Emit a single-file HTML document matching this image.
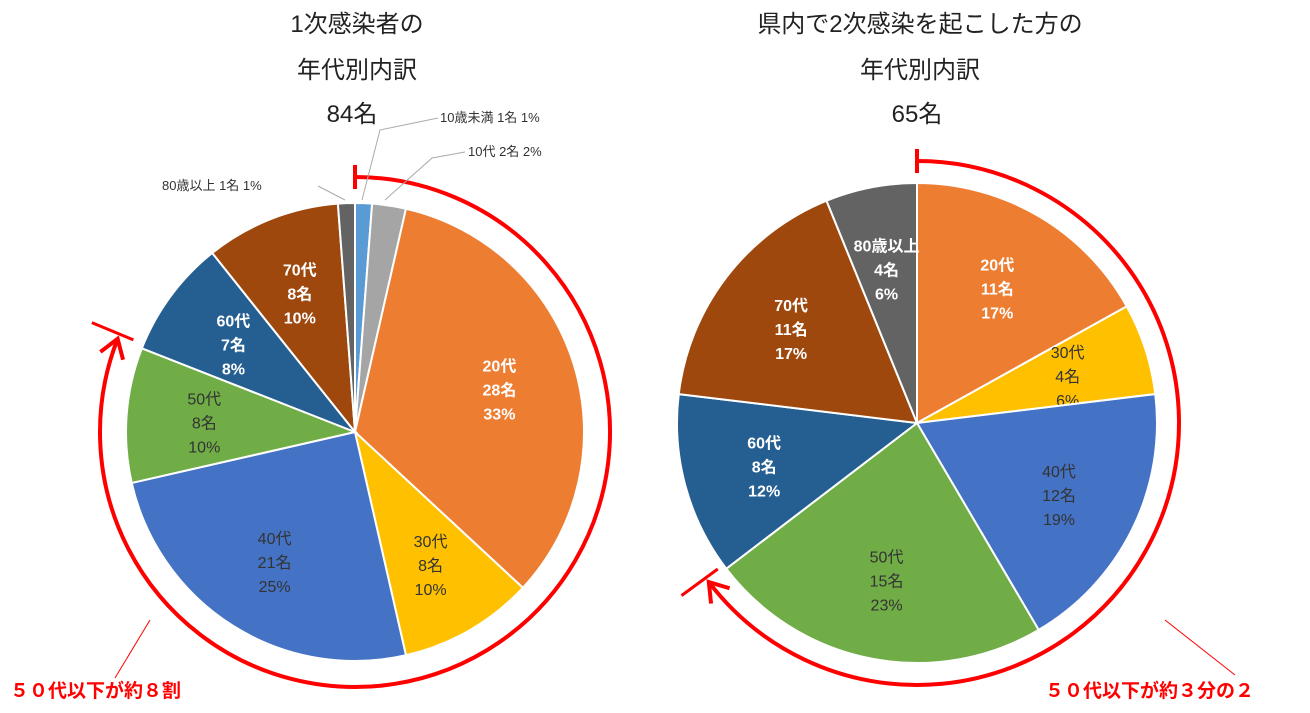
<!DOCTYPE html>
<html><head><meta charset="utf-8">
<style>
body{margin:0;background:#fff;width:1310px;height:708px;overflow:hidden;font-family:"Liberation Sans","Noto Sans CJK JP",sans-serif}
svg text{font-family:"Liberation Sans","Noto Sans CJK JP",sans-serif}
</style></head>
<body>
<svg id="c" width="1310" height="708" viewBox="0 0 1310 708">
<text x="357" y="32" font-size="24" text-anchor="middle" fill="#222">1次感染者の</text>
<text x="357" y="78" font-size="24" text-anchor="middle" fill="#222">年代別内訳</text>
<text x="352" y="122" font-size="24" text-anchor="middle" fill="#222">84名</text>
<text x="920" y="32" font-size="24" text-anchor="middle" fill="#222">県内で2次感染を起こした方の</text>
<text x="920" y="78" font-size="24" text-anchor="middle" fill="#222">年代別内訳</text>
<text x="917" y="122" font-size="24" text-anchor="middle" fill="#222">65名</text>
<g id="L"></g><g id="R"></g>
<text x="10" y="697" font-size="19" font-weight="bold" fill="#f00">５０代以下が約８割</text>
<text x="1045" y="697" font-size="19" font-weight="bold" fill="#f00">５０代以下が約３分の２</text>
<line x1="150" y1="620" x2="115" y2="678" stroke="#f00" stroke-width="1"/>
<line x1="1165" y1="620" x2="1235" y2="675" stroke="#f00" stroke-width="1"/>
<text x="440" y="122" font-size="13" fill="#333">10歳未満 1名 1%</text>
<text x="468" y="156" font-size="13" fill="#333">10代 2名 2%</text>
<text x="162" y="190" font-size="13" fill="#333">80歳以上 1名 1%</text>
<polyline points="362,200 380,130 438,118" fill="none" stroke="#aaa"/>
<polyline points="385,200 432,158 465,152" fill="none" stroke="#aaa"/>
<line x1="318" y1="186" x2="345" y2="200" stroke="#aaa"/>
</svg>
<script>
const leftCats=["10歳未満","10代","20代","30代","40代","50代","60代","70代","80歳以上"];
const leftVals=[1,2,28,8,21,8,7,8,1];
const leftPct=["1%","2%","33%","10%","25%","10%","8%","10%","1%"];
const rightCats=["20代","30代","40代","50代","60代","70代","80歳以上"];
const rightVals=[11,4,12,15,8,11,4];
const rightPct=["17%","6%","19%","23%","12%","17%","6%"];
const colorMap={"10歳未満":"#5B9BD5","10代":"#A5A5A5","20代":"#ED7D31","30代":"#FFC000","40代":"#4472C4","50代":"#70AD47","60代":"#255E91","70代":"#9E480E","80歳以上":"#636363"};
const darkText={"30代":1,"40代":1,"50代":1};
const NS="http://www.w3.org/2000/svg";
function pt(cx,cy,r,a){return [cx+r*Math.sin(a),cy-r*Math.cos(a)];}
function mk(tag,attrs,parent){const e=document.createElementNS(NS,tag);for(const k in attrs)e.setAttribute(k,attrs[k]);parent.appendChild(e);return e;}
function pie(g,cats,vals,pcts,cx,cy,r,arcR,arcCount,skipLabels){
  const tot=vals.reduce((a,b)=>a+b,0);let acc=0;
  cats.forEach((c,i)=>{
    const a0=acc/tot*2*Math.PI;acc+=vals[i];const a1=acc/tot*2*Math.PI;
    const p0=pt(cx,cy,r,a0),p1=pt(cx,cy,r,a1);
    const p=mk("path",{d:`M${cx},${cy}L${p0[0]},${p0[1]}A${r},${r} 0 ${a1-a0>Math.PI?1:0} 1 ${p1[0]},${p1[1]}Z`,fill:colorMap[c],stroke:"#fff","stroke-width":2},g);
    
    
    if(skipLabels.includes(c))return;
    const m=(a0+a1)/2;const lp=pt(cx,cy,r*0.66,m);
    const dk=darkText[c];
    const lines=[c,vals[i]+"名",pcts[i]];
    const t=mk("text",{x:lp[0],y:lp[1]-16,"text-anchor":"middle","font-size":16,fill:dk?"#333":"#fff","font-weight":dk?"normal":"bold"},g);
    
    
    lines.forEach((s,k)=>{const ts=mk("tspan",{x:lp[0],dy:k?24:0},t);ts.textContent=s;});
  });
  // red arc
  let s=0;for(let i=0;i<arcCount;i++)s+=vals[i];
  const ae=s/tot*2*Math.PI;
  const q0=pt(cx,cy,arcR,0),q1=pt(cx,cy,arcR,ae);
  const arc=mk("path",{d:`M${q0[0]},${q0[1]}A${arcR},${arcR} 0 ${ae>Math.PI?1:0} 1 ${q1[0]},${q1[1]}`,fill:"none",stroke:"#f00","stroke-width":4},g);
  
  
  const tk=mk("line",{x1:cx,y1:cy-arcR-12,x2:cx,y2:cy-arcR+12,stroke:"#f00","stroke-width":4},g);
  
  
  const e1=pt(cx,cy,arcR+30,ae+0.02),e2=pt(cx,cy,arcR-15,ae+0.02);
  const et=mk("line",{x1:e1[0],y1:e1[1],x2:e2[0],y2:e2[1],stroke:"#f00","stroke-width":3},g);
  
  
  // arrowhead
  const tip=pt(cx,cy,arcR,ae);const b=pt(cx,cy,arcR,ae-0.08);
  const dx=tip[0]-b[0],dy=tip[1]-b[1],L=Math.hypot(dx,dy),ux=dx/L,uy=dy/L;
  const ah=mk("polyline",{points:`${tip[0]-18*ux+12*uy},${tip[1]-18*uy-12*ux} ${tip[0]},${tip[1]} ${tip[0]-18*ux-12*uy},${tip[1]-18*uy+12*ux}`,fill:"none",stroke:"#f00","stroke-width":4},g);
  
  
}
pie(document.getElementById("L"),leftCats,leftVals,leftPct,355,432,229,255,6,["10歳未満","10代","80歳以上"]);
pie(document.getElementById("R"),rightCats,rightVals,rightPct,917,423,240,262,4,[]);
</script>
</body></html>
